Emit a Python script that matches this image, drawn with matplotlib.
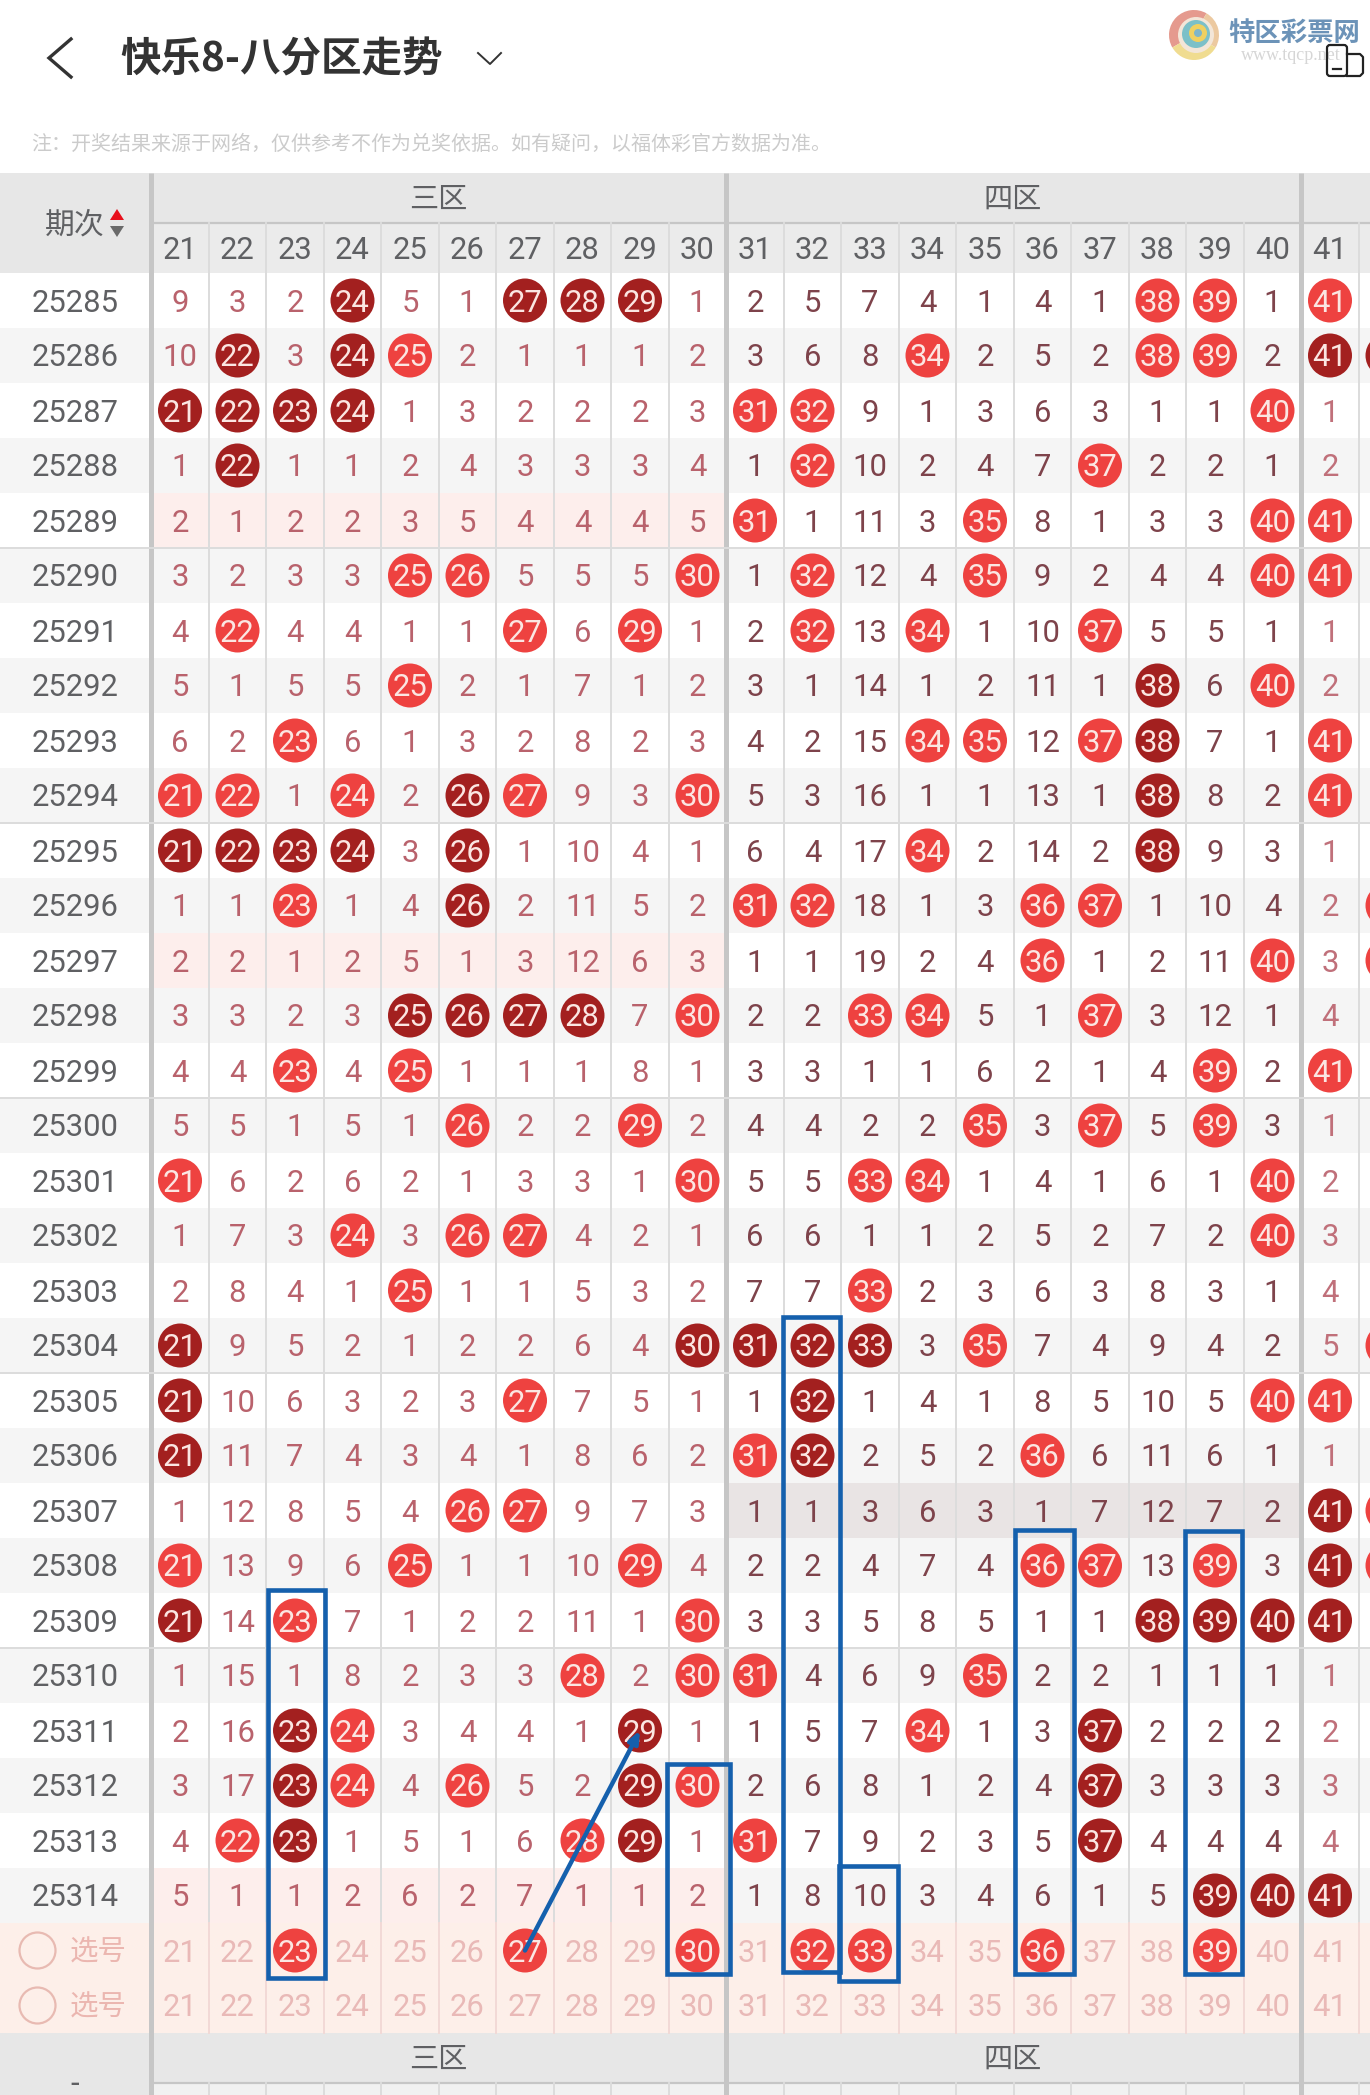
import matplotlib
matplotlib.use("Agg")
import matplotlib.pyplot as plt
from matplotlib.patches import Circle, Rectangle, FancyBboxPatch, Polygon, Wedge

CJK = ["Noto Sans CJK SC", "DejaVu Sans"]

periods = list(range(25285, 25315))
columns = list(range(21, 42))
zones = [("三区", 21, 30), ("四区", 31, 40)]

# D = dark ball (repeat), R = red ball, plain = miss count
draws = [
    "9 3 2 D24 5 1 D27 D28 D29 1 2 5 7 4 1 4 1 R38 R39 1 R41",
    "10 D22 3 D24 R25 2 1 1 1 2 3 6 8 R34 2 5 2 R38 R39 2 D41",
    "D21 D22 D23 D24 1 3 2 2 2 3 R31 R32 9 1 3 6 3 1 1 R40 1",
    "1 D22 1 1 2 4 3 3 3 4 1 R32 10 2 4 7 R37 2 2 1 2",
    "2 1 2 2 3 5 4 4 4 5 R31 1 11 3 R35 8 1 3 3 R40 R41",
    "3 2 3 3 R25 R26 5 5 5 R30 1 R32 12 4 R35 9 2 4 4 R40 R41",
    "4 R22 4 4 1 1 R27 6 R29 1 2 R32 13 R34 1 10 R37 5 5 1 1",
    "5 1 5 5 R25 2 1 7 1 2 3 1 14 1 2 11 1 D38 6 R40 2",
    "6 2 R23 6 1 3 2 8 2 3 4 2 15 R34 R35 12 R37 D38 7 1 R41",
    "R21 R22 1 R24 2 D26 R27 9 3 R30 5 3 16 1 1 13 1 D38 8 2 R41",
    "D21 D22 D23 D24 3 D26 1 10 4 1 6 4 17 R34 2 14 2 D38 9 3 1",
    "1 1 R23 1 4 D26 2 11 5 2 R31 R32 18 1 3 R36 R37 1 10 4 2",
    "2 2 1 2 5 1 3 12 6 3 1 1 19 2 4 R36 1 2 11 R40 3",
    "3 3 2 3 D25 D26 D27 D28 7 R30 2 2 R33 R34 5 1 R37 3 12 1 4",
    "4 4 R23 4 R25 1 1 1 8 1 3 3 1 1 6 2 1 4 R39 2 R41",
    "5 5 1 5 1 R26 2 2 R29 2 4 4 2 2 R35 3 R37 5 R39 3 1",
    "R21 6 2 6 2 1 3 3 1 R30 5 5 R33 R34 1 4 1 6 1 R40 2",
    "1 7 3 R24 3 R26 R27 4 2 1 6 6 1 1 2 5 2 7 2 R40 3",
    "2 8 4 1 R25 1 1 5 3 2 7 7 R33 2 3 6 3 8 3 1 4",
    "D21 9 5 2 1 2 2 6 4 D30 D31 D32 D33 3 R35 7 4 9 4 2 5",
    "D21 10 6 3 2 3 R27 7 5 1 1 D32 1 4 1 8 5 10 5 R40 R41",
    "D21 11 7 4 3 4 1 8 6 2 R31 D32 2 5 2 R36 6 11 6 1 1",
    "1 12 8 5 4 R26 R27 9 7 3 1 1 3 6 3 1 7 12 7 2 D41",
    "R21 13 9 6 R25 1 1 10 R29 4 2 2 4 7 4 R36 R37 13 R39 3 D41",
    "D21 14 R23 7 1 2 2 11 1 R30 3 3 5 8 5 1 1 D38 D39 D40 D41",
    "1 15 1 8 2 3 3 R28 2 R30 R31 4 6 9 R35 2 2 1 1 1 1",
    "2 16 D23 R24 3 4 4 1 D29 1 1 5 7 R34 1 3 D37 2 2 2 2",
    "3 17 D23 R24 4 R26 5 2 D29 R30 2 6 8 1 2 4 D37 3 3 3 3",
    "4 R22 D23 1 5 1 6 R28 D29 1 R31 7 9 2 3 5 D37 4 4 4 4",
    "5 1 1 2 6 2 7 1 1 2 1 8 10 3 4 6 1 5 D39 D40 D41",
]

# column 42 is cut off by the screen, only the ball edges show
col42_periods = [25286, 25296, 25297, 25304, 25307, 25308]
col42_kinds = ["D", "R", "R", "R", "R", "R"]

picked = [23, 27, 30, 32, 33, 36, 39]

# tinted cells: (period, first col, last col)
pink_cells = [(25289, 21, 30), (25297, 21, 30), (25314, 21, 30)]
mauve_cells = [(25307, 31, 40)]

# hand drawn boxes: column, first period
box_cols = [23, 30, 32, 33, 36, 39]
box_first = [25309, 25312, 25304, 25314, 25308, 25308]
# pixel nudges left, right, top, bottom
box_nudge = [(2, 1, -3, 0), (-2, 4, 6, -4), (-1, -1, -1, -6),
             (-2, -1, -2, 3), (1, 3, -8, -4), (-1, -2, -7, -4)]

W, H = 1370, 2095
TOP = 273
ROW_H = 55
LEFT = 151.25
COL_W = 57.5

RED = "#ee4240"
DARK = "#a3201f"
HEAD = "#e7e7e7"
BLUE = "#1560ad"
LINE = "#dcdcdc"
SEP = "#c6c6c6"
GREY_TEXT = "#5f6063"


def col_x(n):
    return 180 + COL_W * (n - 21)


def row_y(i):
    return TOP + ROW_H * i + ROW_H / 2


def num(ax, x, y, s, color, size=22.3, zorder=5):
    # baseline + half cap height keeps digits centred on the row
    ax.text(x, y + 11, s, ha="center", va="baseline", color=color,
            fontsize=size, family="Roboto", zorder=zorder)


def cjk(ax, x, y, s, color, size, weight="normal", ha="center", zorder=5):
    ax.text(x, y, s, ha=ha, va="center", color=color, fontsize=size,
            family=CJK, fontweight=weight, zorder=zorder)


def ball(ax, n, i, kind):
    color = DARK if kind == "D" else RED
    ax.add_patch(Circle((col_x(n), row_y(i)), 22, fc=color, ec="none", zorder=3))


def miss_color(n):
    if n <= 30:
        return "#b9626c"
    if n <= 40:
        return "#7e434b"
    return "#c0707a"


fig = plt.figure(figsize=(W / 100, H / 100), dpi=100)
ax = fig.add_axes([0, 0, 1, 1])
ax.set_xlim(0, W)
ax.set_ylim(H, 0)
ax.axis("off")

n_rows = len(periods)
body_end = TOP + ROW_H * (n_rows + 2)

# row bands
for i in range(n_rows):
    if i % 2 == 1:
        ax.add_patch(Rectangle((0, TOP + ROW_H * i), W, ROW_H, fc="#f5f5f5", ec="none", zorder=0))
ax.add_patch(Rectangle((0, TOP + ROW_H * n_rows), W, ROW_H * 2, fc="#fdefe9", ec="none", zorder=0))

for cells, color in ((pink_cells, "#fdeeec"), (mauve_cells, "#e9e4e4")):
    for p, a, b in cells:
        i = periods.index(p)
        x0 = col_x(a) - COL_W / 2
        ax.add_patch(Rectangle((x0, TOP + ROW_H * i), COL_W * (b - a + 1), ROW_H,
                               fc=color, ec="none", zorder=1))

# header and footer
ax.add_patch(Rectangle((0, 173), W, 100, fc=HEAD, ec="none", zorder=1))
ax.add_patch(Rectangle((LEFT, 223), W, 50, fc="#ebebeb", ec="none", zorder=1))
ax.add_patch(Rectangle((0, body_end), W, H - body_end, fc=HEAD, ec="none", zorder=1))
ax.add_patch(Rectangle((LEFT, 2083), W, 12, fc="#f1f1f1", ec="none", zorder=1))
ax.plot([LEFT, W], [223, 223], color=SEP, lw=1.6, zorder=2)
ax.plot([LEFT, W], [2083, 2083], color=SEP, lw=1.6, zorder=2)

# grid lines
for n in columns + [42]:
    x = col_x(n) + COL_W / 2 * -1
    if n in (21, 31, 41):
        continue
    ax.plot([x, x], [223, TOP + ROW_H * n_rows], color=LINE, lw=1.4, zorder=2)
    ax.plot([x, x], [TOP + ROW_H * n_rows, body_end], color="#f2d9d6", lw=1.4, zorder=2)
    ax.plot([x, x], [2083, H], color=LINE, lw=1.4, zorder=2)
for n in (21, 31, 41):
    x = col_x(n) - COL_W / 2
    ax.plot([x, x], [173, H], color=SEP, lw=3.6, zorder=2, solid_capstyle="butt")
for i in range(5, n_rows, 5):
    y = TOP + ROW_H * i
    ax.plot([0, W], [y, y], color=LINE, lw=1.4, zorder=2)

# headers
for name, a, b in zones:
    cjk(ax, (col_x(a) + col_x(b)) / 2 - 1, 200, name, GREY_TEXT, 21)
    cjk(ax, (col_x(a) + col_x(b)) / 2 - 1, 2060, name, GREY_TEXT, 21)
for n in columns:
    num(ax, col_x(n), 248, str(n), GREY_TEXT)
cjk(ax, 75, 225, "期次", GREY_TEXT, 21.5)
ax.add_patch(Polygon([(117, 209), (110, 220), (124, 220)], fc="#e8101c", ec="none", zorder=5))
ax.add_patch(Polygon([(117, 237), (110, 226), (124, 226)], fc="#6a6a6a", ec="none", zorder=5))
num(ax, 75, 2082, "-", GREY_TEXT)

# table body
for i, (p, row) in enumerate(zip(periods, draws)):
    num(ax, 75, row_y(i), str(p), GREY_TEXT)
    for n, cell in zip(columns, row.split()):
        if cell[0] in "DR":
            ball(ax, n, i, cell[0])
            num(ax, col_x(n), row_y(i), cell[1:], "#fbe6e2")
        else:
            num(ax, col_x(n), row_y(i), cell, miss_color(n))
for p, kind in zip(col42_periods, col42_kinds):
    ball(ax, 42, periods.index(p), kind)

# picker rows
for k in range(2):
    i = n_rows + k
    ax.add_patch(Circle((37.5, row_y(i)), 18, fc="none", ec="#e8bab2", lw=1.6, zorder=4))
    cjk(ax, 98, row_y(i) + 2, "选号", "#ebb6b0", 20.5)
    for n in columns:
        if k == 0 and n in picked:
            ball(ax, n, i, "R")
            num(ax, col_x(n), row_y(i), str(n), "#fbe6e2")
        else:
            num(ax, col_x(n), row_y(i), str(n), "#e9b9b7")

# blue annotations
box_bottom = TOP + ROW_H * (n_rows + 1)
for n, p, (dl, dr, dt, db) in zip(box_cols, box_first, box_nudge):
    x0 = col_x(n) - COL_W / 2 + dl
    x1 = col_x(n) + COL_W / 2 + dr
    y0 = TOP + ROW_H * periods.index(p) + dt
    y1 = box_bottom + db
    ax.add_patch(Rectangle((x0, y0), x1 - x0, y1 - y0, fc="none", ec=BLUE, lw=3.3,
                           joinstyle="miter", zorder=7))
ax.annotate("", xy=(col_x(29), row_y(periods.index(25311))), xytext=(col_x(27), row_y(n_rows)),
            arrowprops=dict(arrowstyle="-|>,head_length=0.7,head_width=0.3", color=BLUE, lw=3.2,
                            shrinkA=0, shrinkB=0), zorder=8)

# top bar
ax.plot([71, 49, 71], [39, 58, 77], color="#333333", lw=2.4, solid_joinstyle="miter")
cjk(ax, 120, 60, "快乐8-八分区走势", "#333333", 29.2, weight="bold", ha="left")
ax.plot([478, 490, 501], [53, 64, 53], color="#333333", lw=1.4)
cjk(ax, 31, 144, "注：开奖结果来源于网络，仅供参考不作为兑奖依据。如有疑问，以福体彩官方数据为准。",
    "#cbcbcb", 14.4, ha="left")

# watermark logo, rough swirl
logo = (1194, 35)
for a, b, c in [(150, 300, "#e59a8e"), (300, 30, "#ecc9a0"), (30, 150, "#f0dc90")]:
    ax.add_patch(Wedge(logo, 25, a, b, fc=c, ec="none", zorder=5))
for dx, dy, r, c in [(2, 0, 18, "#f3e6d8"), (2, -1, 14, "#7cc0c8"),
                     (4, -2, 9, "#f0d060"), (4, -2, 4, "#7fb5c9")]:
    ax.add_patch(Circle((logo[0] + dx, logo[1] + dy), r, fc=c, ec="none", zorder=5))
cjk(ax, 1294, 33, "特区彩票网", "#6c93b8", 19, weight="bold")
ax.text(1291, 55, "www.tqcp.net", ha="center", va="center", color="#d6d6d6", fontsize=13,
        family="Liberation Serif", zorder=5)

# split screen icon
ax.add_patch(FancyBboxPatch((1327, 45), 20, 31, boxstyle="round,pad=0,rounding_size=3",
                            fc="none", ec="#222222", lw=1.6, zorder=6))
ax.plot([1347, 1360, 1363, 1363, 1360, 1347], [54, 54, 57, 73, 76, 76], color="#222222", lw=1.6, zorder=6)
ax.plot([1333, 1341], [69, 69], color="#222222", lw=1.6, zorder=6)

fig.savefig("out.png", dpi=100)
